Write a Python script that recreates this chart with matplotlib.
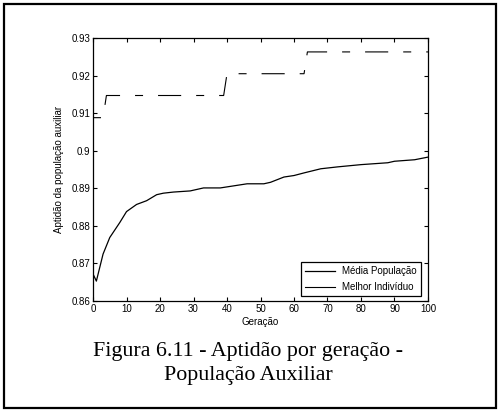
import matplotlib
matplotlib.use('Agg')
import matplotlib.pyplot as plt
from matplotlib.patches import Rectangle

plt.rcParams['font.family'] = ['Liberation Sans', 'DejaVu Sans']

# media da populacao auxiliar por geracao
media_x = [0, 1, 3, 5, 8, 10, 13, 16, 19, 21, 24, 29, 33, 38, 46, 51, 53, 57, 60,
           63, 68, 73, 80, 88, 90, 96, 100]
media_y = [0.8672, 0.8653, 0.8725, 0.8769, 0.8809, 0.8838, 0.8857, 0.8867, 0.8883,
           0.8887, 0.8890, 0.8893, 0.8901, 0.8901, 0.8912, 0.8912, 0.8916, 0.8930,
           0.8934, 0.8941, 0.8952, 0.8957, 0.8963, 0.8968, 0.8972, 0.8976, 0.8983]

# melhor individuo
melhor_x = [0, 3, 4, 39, 40, 63, 64, 100]
melhor_y = [0.9088, 0.9088, 0.9147, 0.9147, 0.9205, 0.9205, 0.9263, 0.9263]

xticks = [0, 10, 20, 30, 40, 50, 60, 70, 80, 90, 100]
yticks = [0.86, 0.87, 0.88, 0.89, 0.9, 0.91, 0.92, 0.93]
ytick_labels = ['0.86', '0.87', '0.88', '0.89', '0.9', '0.91', '0.92', '0.93']

fig = plt.figure(figsize=(4.99, 4.11), dpi=100)
ax = fig.add_axes([0.1864, 0.2676, 0.6713, 0.6399])

ax.plot(media_x, media_y, color='black', lw=0.9, label='Média População')
ax.plot(melhor_x, melhor_y, color='black', lw=0.8, dashes=(7.2, 13.5, 20.8, 13.5),
        label='Melhor Indivíduo')

ax.set_xlim(0, 100)
ax.set_ylim(0.86, 0.93)
ax.set_xticks(xticks)
ax.set_yticks(yticks)
ax.set_yticklabels(ytick_labels)
ax.tick_params(direction='in', top=True, right=True, length=3, width=0.8,
               labelsize=7, pad=2)
for s in ax.spines.values():
    s.set_linewidth(0.9)

ax.set_xlabel('Geração', fontsize=7, labelpad=2)
ax.set_ylabel('Aptidão da população auxiliar', fontsize=7, labelpad=5)

leg = ax.legend(loc='lower right', bbox_to_anchor=(0.979, 0.019), borderaxespad=0,
                fontsize=7, fancybox=False, framealpha=1, edgecolor='black',
                handlelength=3.1, labelspacing=0.6)
leg.get_frame().set_linewidth(0.9)
# both legend samples drawn solid
for h in leg.get_lines():
    h.set_linestyle('-')

fig.text(0.497, 0.135, 'Figura 6.11 - Aptidão por geração -', ha='center',
         va='baseline', fontsize=15.8, family='Liberation Serif')
fig.text(0.497, 0.075, 'População Auxiliar', ha='center', va='baseline',
         fontsize=15.8, family='Liberation Serif')

fig.patches.append(Rectangle((0.008, 0.008), 0.986, 0.983, transform=fig.transFigure,
                             fill=False, edgecolor='black', lw=1.6))

fig.savefig('out.png', dpi=100)
